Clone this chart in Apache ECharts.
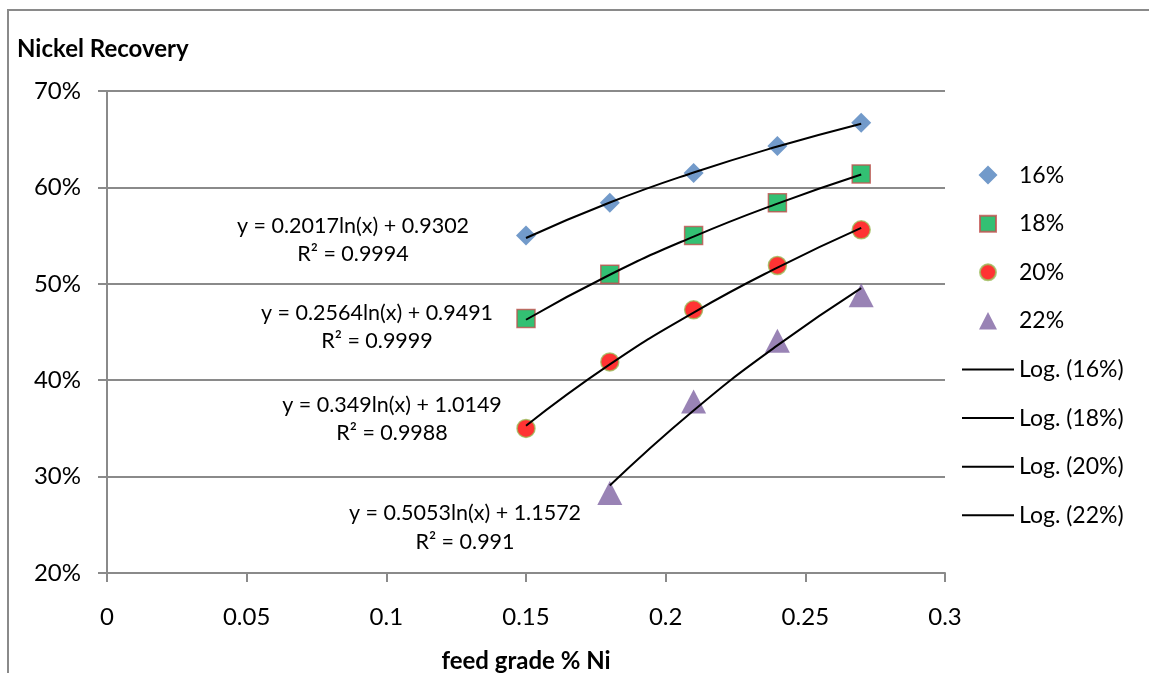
<!DOCTYPE html>
<html>
<head>
<meta charset="utf-8">
<script src="https://cdn.jsdelivr.net/npm/echarts@6/dist/echarts.min.js"></script>
<style>html,body{margin:0;padding:0;background:#fff;}#c{width:1149px;height:673px;}</style>
</head>
<body>
<div id="c"></div>
<script>
// ---- data ----
const xTicks = [0, 0.05, 0.1, 0.15, 0.2, 0.25, 0.3];
const yTicks = [20, 30, 40, 50, 60, 70];
const feed = [0.15, 0.18, 0.21, 0.24, 0.27];
const feed22 = [0.18, 0.21, 0.24, 0.27];
const rec16 = [55.0, 58.4, 61.5, 64.3, 66.7];
const rec18 = [46.4, 51.0, 55.0, 58.4, 61.4];
const rec20 = [35.0, 41.9, 47.3, 51.9, 55.6];
const rec22 = [28.3, 37.8, 44.1, 48.8];
const trend16 = [54.75, 58.43, 61.54, 64.24, 66.61];
const trend18 = [46.27, 50.94, 54.90, 58.32, 61.34];
const trend20 = [35.28, 41.64, 47.02, 51.68, 55.80];
const trend22 = [29.07, 36.86, 43.61, 49.56];
const seriesNames = ['16%', '18%', '20%', '22%'];
const trendNames = ['Log. (16%)', 'Log. (18%)', 'Log. (20%)', 'Log. (22%)'];
const equations = [
  ['y = 0.2017ln(x) + 0.9302', 'R² = 0.9994'],
  ['y = 0.2564ln(x) + 0.9491', 'R² = 0.9999'],
  ['y = 0.349ln(x) + 1.0149', 'R² = 0.9988'],
  ['y = 0.5053ln(x) + 1.1572', 'R² = 0.991']
];
const titleText = 'Nickel Recovery';
const xName = 'feed grade % Ni';

const FONT = 'Lato';
const pair = (xs, ys) => xs.map((x, i) => [x, ys[i]]);

const chart = echarts.init(document.getElementById('c'));
const eqPos = [[353, 226, 254], [377, 313, 341], [392, 405, 433], [465, 513, 542]];
const graphics = [
  { type: 'polyline', shape: { points: [[8, 673], [8, 10], [1149, 10]] }, style: { stroke: '#8a8a8a', lineWidth: 2, fill: null } }
];
equations.forEach((eq, i) => {
  graphics.push({ type: 'text', x: eqPos[i][0], y: eqPos[i][1], style: { text: eq[0], font: '21.5px ' + FONT, fill: '#000', align: 'center', verticalAlign: 'middle' } });
  graphics.push({ type: 'text', x: eqPos[i][0], y: eqPos[i][2], style: { text: eq[1], font: '21.5px ' + FONT, fill: '#000', align: 'center', verticalAlign: 'middle' } });
});

// legend icons drawn in a 52x20 box (corner points keep the box size)
const BOX = 'M0,0L0,0.01M52,20L52,19.99';
const legendIcons = [
  'path://' + BOX + 'M26,0.5L35.5,10L26,19.5L16.5,10Z',
  'path://' + BOX + 'M18,2L34,2L34,18L18,18Z',
  'path://' + BOX + 'M18,10A8,8 0 1 0 34,10A8,8 0 1 0 18,10Z',
  'path://' + BOX + 'M26,1L35,18.5L17,18.5Z'
];
const lineIcon = 'path://' + BOX + 'M0,9L52,9L52,11L0,11Z';

const scatterStyle = [
  { symbol: 'diamond', symbolSize: [20, 20], itemStyle: { color: '#4f81bd' } },
  { symbol: 'rect', symbolSize: 18, itemStyle: { color: '#00b050', borderColor: '#c0504d', borderWidth: 1.5 } },
  { symbol: 'circle', symbolSize: 18, itemStyle: { color: '#ff0000', borderColor: '#9bbb59', borderWidth: 1.5 } },
  { symbol: 'triangle', symbolSize: [25, 24], itemStyle: { color: '#8064a2' } }
];
const recs = [pair(feed, rec16), pair(feed, rec18), pair(feed, rec20), pair(feed22, rec22)];
const trends = [pair(feed, trend16), pair(feed, trend18), pair(feed, trend20), pair(feed22, trend22)];

const series = [];
seriesNames.forEach((n, i) => {
  series.push(Object.assign({ type: 'scatter', name: n, data: recs[i], z: 2 }, scatterStyle[i]));
});
trendNames.forEach((n, i) => {
  series.push({ type: 'line', name: n, data: trends[i], smooth: true, symbol: 'none', z: 3,
    lineStyle: { color: '#000', width: 2 }, itemStyle: { color: '#000' } });
});

const legendData = seriesNames.map((n, i) => ({ name: n, icon: legendIcons[i] }))
  .concat(trendNames.map(n => ({ name: n, icon: lineIcon })));

chart.setOption({
  animation: false,
  backgroundColor: '#fff',
  textStyle: { fontFamily: FONT },
  title: { text: titleText, left: 12, top: 32, textStyle: { fontFamily: FONT, fontSize: 24, fontWeight: 'bold', color: '#000' } },
  grid: { left: 107, right: 204, top: 91, bottom: 100, containLabel: false, outerBoundsMode: 'none' },
  legend: {
    orient: 'vertical', left: 956, top: 158.6, itemWidth: 52, itemHeight: 20, itemGap: 25.6,
    textStyle: { fontFamily: FONT, fontSize: 23, lineHeight: 20, color: '#000' },
    data: legendData
  },
  xAxis: {
    type: 'value', min: 0, max: 0.3, interval: 0.05,
    name: xName, nameLocation: 'middle', nameGap: 76,
    nameTextStyle: { fontFamily: FONT, fontSize: 24, fontWeight: 'bold', color: '#000' },
    axisLine: { lineStyle: { color: '#8a8a8a', width: 2 } },
    axisTick: { show: true, length: 9, lineStyle: { color: '#8a8a8a', width: 2 } },
    axisLabel: { margin: 32, fontSize: 24, color: '#000', fontFamily: FONT, formatter: v => String(+v.toFixed(2)) },
    splitLine: { show: false }
  },
  yAxis: {
    type: 'value', min: 20, max: 70, interval: 10,
    axisLine: { show: true, lineStyle: { color: '#8a8a8a', width: 2 } },
    axisTick: { show: true, length: 9, lineStyle: { color: '#8a8a8a', width: 2 } },
    axisLabel: { margin: 26, fontSize: 24, color: '#000', fontFamily: FONT, formatter: '{value}%' },
    splitLine: { show: true, lineStyle: { color: '#8a8a8a', width: 2 } }
  },
  graphic: graphics,
  series: series
});
</script>
</body>
</html>
